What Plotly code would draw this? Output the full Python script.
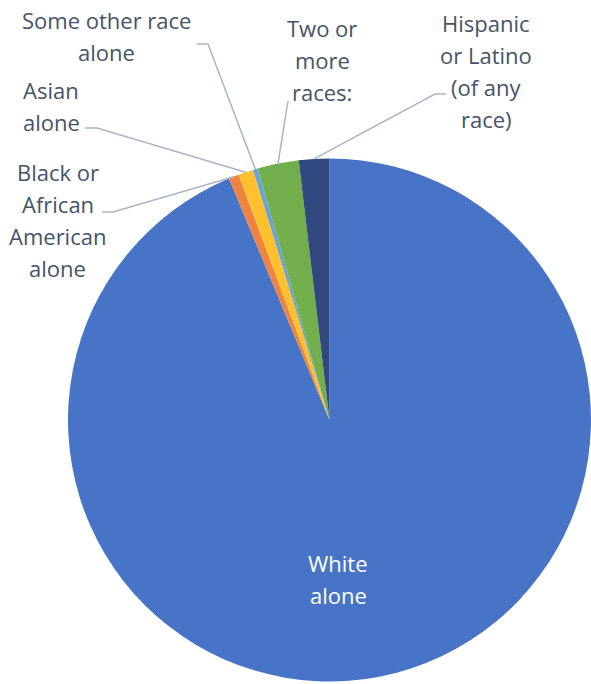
import math
import plotly.graph_objects as go

# ---- data ----
labels = ["White alone", "Black or African American alone", "Asian alone",
          "Some other race alone", "Two or more races:", "Hispanic or Latino (of any race)"]
values = [93.7, 0.63, 0.93, 0.29, 2.55, 1.88]
colors = ["#4874C8", "#EF8442", "#FFC12E", "#67A3DA", "#73AE4D", "#31497F"]
label_lines = [["White", "alone"],
               ["Black or", "African", "American", "alone"],
               ["Asian", "alone"],
               ["Some other race", "alone"],
               ["Two or", "more", "races:"],
               ["Hispanic", "or Latino", "(of any", "race)"]]

# ---- layout constants (pixels) ----
W, H = 591, 684
dom_x = [68 / W, 1.0]
dom_y = [2.5 / H, 1 - 158.5 / H]
LINE_H = 32
FONT = "Open Sans"
TXT = "#44546A"
LEAD = "#A9B5C7"

# label placement: (center x, first-line center y), elbow points for leader
label_pos = [(338, 563), (58, 172), (51, 90), (106, 20), (322, 28), (486, 23)]
leader_start = [None, [(102, 212), (113, 212)], [(85, 128), (97, 128)],
                [(197, 44), (208, 44)], [(288, 101)], [(446, 94), (435, 94)]]

fig = go.Figure(go.Pie(
    labels=labels, values=values, sort=False, direction="clockwise", rotation=0,
    marker=dict(colors=colors, line=dict(width=0)),
    textinfo="none", hoverinfo="label+percent",
    domain=dict(x=dom_x, y=dom_y), showlegend=False,
))

# pie geometry in pixels (as plotly computes it)
wpx = (dom_x[1] - dom_x[0]) * W
hpx = (dom_y[1] - dom_y[0]) * H
R = min(wpx, hpx) / 2
cx = (dom_x[0] + dom_x[1]) / 2 * W
cy = (1 - (dom_y[0] + dom_y[1]) / 2) * H

def px2paper(x, y):
    return x / W, 1 - y / H

total = sum(values)
cum = 0
annotations = []
shapes = []
for i, v in enumerate(values):
    mid = (cum + v / 2) / total * 2 * math.pi
    cum += v
    ex = cx + R * math.sin(mid)
    ey = cy - R * math.cos(mid)
    lx, ly = label_pos[i]
    color = "white" if i == 0 else TXT
    for k, line in enumerate(label_lines[i]):
        px_, py_ = px2paper(lx, ly + k * LINE_H)
        annotations.append(dict(x=px_, y=py_, xref="paper", yref="paper",
                                text=line, showarrow=False, xanchor="center",
                                yanchor="middle",
                                font=dict(family=FONT, size=22, color=color)))
    if leader_start[i]:
        pts = leader_start[i] + [(ex, ey)]
        path = ""
        for j, (x, y) in enumerate(pts):
            px_, py_ = px2paper(x, y)
            path += ("M" if j == 0 else "L") + f"{px_:.5f},{py_:.5f} "
        shapes.append(dict(type="path", path=path.strip(), xref="paper", yref="paper",
                           line=dict(color=LEAD, width=1.5)))

fig.update_layout(
    width=W, height=H, margin=dict(l=0, r=0, t=0, b=0),
    paper_bgcolor="white", plot_bgcolor="white",
    annotations=annotations, shapes=shapes,
)
fig.write_html("out.html")
